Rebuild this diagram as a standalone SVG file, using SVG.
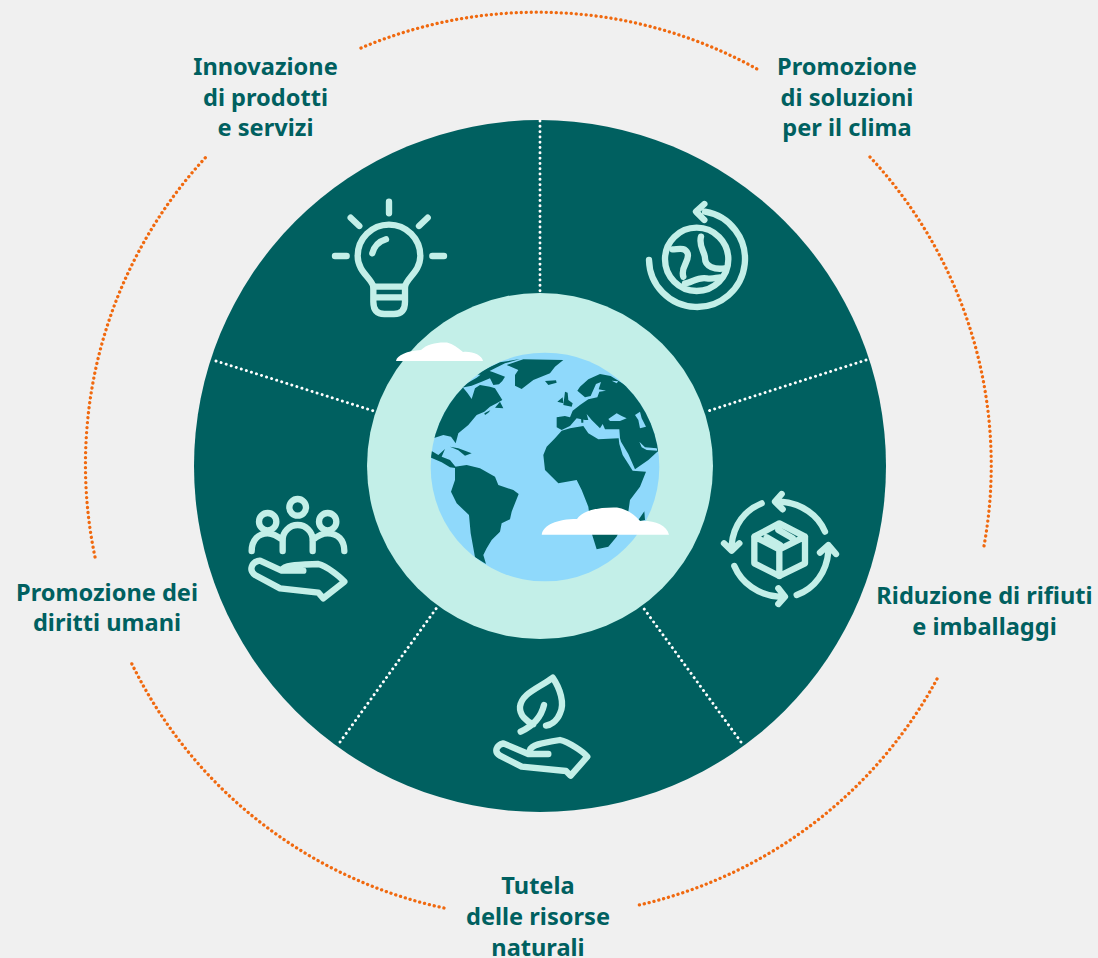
<svg xmlns="http://www.w3.org/2000/svg" width="1098" height="958" viewBox="0 0 1098 958">
<style>
.lbl{font-family:"Noto Sans","Liberation Sans",sans-serif;font-weight:700;font-size:23.600px;fill:#006060;text-anchor:middle}
.arc{fill:none;stroke:#f0690f;stroke-width:3.300;stroke-linecap:round;stroke-dasharray:.1 4.900}
.div{fill:none;stroke:#fff;stroke-width:2.900;stroke-linecap:round;stroke-dasharray:.1 5.200}
.icon{fill:none;stroke:#c3efe8;stroke-width:19;stroke-linecap:round;stroke-linejoin:round}
.land{fill:#006060}.sea{fill:#8fd9fb}.cloud{fill:#fff}
</style>
<defs><clipPath id="gc"><circle cx="435" cy="441" r="343"/></clipPath></defs>
<rect width="1098" height="958" fill="#f0f0f0"/>
<g id="wheel"><circle cx="540" cy="466" r="346" fill="#006060"/></g>
<g id="connectors">
<path class="div" d="M540 121V293M866 360L705 412M741 742L642 606M340 742L438 606M216 361L377 412"/>
<path class="arc" d="M361 48A452.7 452.7 0 0 1 757 69"/>
<path class="arc" d="M870 157A452.7 452.7 0 0 1 984 546"/>
<path class="arc" d="M937 679A452.7 452.7 0 0 1 639 905"/>
<path class="arc" d="M444 908A452.7 452.7 0 0 1 130 660"/>
<path class="arc" d="M95 557A452.7 452.7 0 0 1 206 157"/>
</g>
<g id="center">
<circle cx="540" cy="466" r="173" fill="#c3efe8"/>
<g transform="translate(400 320) scale(.33333)">
<circle cx="435" cy="441" r="343" fill="#8fd9fb"/>
<g clip-path="url(#gc)">
<g transform="translate(75 75)">
<path class="land" d="M0 285L30 200L80 130L112 125L128 145L140 162L150 130L165 120L195 125L210 130L232 165L215 175L195 185L178 200L155 210L130 240L100 265L92 295L78 275L55 270L25 280Z"/>
<path class="land" d="M100 130L155 98L185 75L205 82L240 95L232 108L222 118L205 120L195 100L170 110L140 122L110 128Z"/>
<path class="land" d="M150 88L190 68L225 52L285 42L240 55L210 70L170 90Z"/>
<path class="land" d="M210 188L225 170L235 190Z"/>
<path class="land" d="M178 205L196 196L190 203L180 210Z"/>
<path class="land" d="M0 335L20 318L40 330L60 312L50 335L75 345L95 370L75 367L50 352L15 337Z"/>
<path class="land" d="M75 305L100 310L140 325L120 332L100 316Z"/>
</g>
<path class="land" d="M165 440L200 435L240 445L285 470L295 495L340 510L356 522L335 575L330 598L305 610L300 635L275 660L260 685L250 705L258 732L225 712L212 640L207 585L170 550L153 515L165 480Z"/>
<path class="land" d="M320 135L370 118L490 120L465 140L450 160L400 180L365 207L345 197L345 165L355 150Z"/>
<path class="land" d="M435 183L468 181L470 188L445 195Z"/>
<path class="land" d="M430 405L440 380L465 355L485 332L510 325L550 318L565 340L595 358L656 355L658 372L668 405L698 452L738 455L720 500L690 540L685 575L650 650L625 680L590 688L575 640L565 560L545 510L530 480L475 490L435 450Z"/>
<path class="land" d="M715 600L733 574L735 600L722 604Z"/>
<g transform="translate(360 60)">
<path class="land" d="M110 232L135 228L150 232L158 212L180 195L205 178L232 172L238 155L258 152L236 148L243 126L228 132L212 168L195 172L172 152L180 140L205 118L240 102L272 108L295 122L340 150L400 230L430 325L412 335L385 360L345 388L325 342L303 305L300 295L298 268L255 268L248 252L240 265L215 240L200 222L205 240L195 240L170 235L150 258L125 270L110 262Z"/>
<path class="land" d="M112 185L128 172L130 190ZM130 195L135 155L143 158L145 180L158 190L155 200Z"/>
<path class="land" d="M183 232L190 232L190 248L184 248Z"/>
<path class="sea" d="M265 237L290 220L305 228L320 235L300 243L270 243Z"/>
<path class="sea" d="M345 225L360 215L365 235L378 260L360 265L355 240Z"/>
<path class="sea" d="M358 305L375 322L410 325L412 332L380 330L365 322Z"/>
<path class="sea" d="M275 122L295 124L290 130Z"/>
</g>
</g>
</g>
<path class="cloud" d="M396 361C397 355 407 351 421 350C427 344 437 342 447 342.500C453 344 458 348 463 352C472 351 482 355 483 361Z"/>
<path class="cloud" d="M541.700 534.700C543 525 557 519 577 519C583 510 600 507 617 507.500C627 509 635 515 640 521C653 520 667 525 669 534.700Z"/>
</g>
<g id="bulb" transform="translate(320 190) scale(.33333)">
<path class="icon" d="M207 35V70M92 83L118 108M323 83L297 108M45 198H80M337 198H372"/>
<path class="icon" d="M160 290C155 265 113 245 113 198A94 94 0 0 1 301 198C301 245 258 265 255 290"/>
<path class="icon" d="M160 290H255V335Q255 372 222 372H193Q160 372 160 335ZM160 322H255"/>
<path class="icon" d="M157 190C162 170 175 155 198 148"/>
</g>
<g id="earth-cycle" transform="translate(635 190) scale(.33333)">
<path class="icon" d="M42 210A144 144 0 1 0 210 65M208 42L183 65L208 90"/>
<circle class="icon" cx="185" cy="208" r="95"/>
<path class="icon" d="M112 178C130 178 150 170 158 190C165 215 135 230 145 260M198 140C190 170 210 185 210 205C210 230 240 240 270 235M150 280C170 280 185 260 215 265C235 268 245 262 255 262"/>
</g>
<g id="box-cycle" transform="translate(710 480) scale(.33333)">
<path class="icon" d="M345 155C325 105 275 70 212 65M215 42L195 65L218 88"/>
<path class="icon" d="M155 70C105 90 70 135 65 195M42 190L65 212L88 190"/>
<path class="icon" d="M73 258C95 310 145 345 205 350M205 325L225 350L205 372"/>
<path class="icon" d="M260 345C315 325 350 275 355 215M330 218L355 195L378 222"/>
<path class="icon" d="M208 130L285 170V250L208 288L133 250V170ZM133 170L208 208L285 170M208 208V288M170 172L210 195M205 150L248 175"/>
</g>
<g id="leaf-hand" transform="translate(480 665) scale(.33333)">
<path class="icon" d="M160 178C140 170 118 150 120 125C125 85 175 70 218 38C240 70 255 115 240 145C230 170 210 180 198 182M192 120C185 150 165 180 122 200"/>
<path class="icon" d="M150 255C155 240 180 235 240 225C265 230 310 260 322 275L272 332L258 318L125 305L60 272C40 260 50 240 70 235L145 267H205"/>
</g>
<g id="people-hand" transform="translate(235 490) scale(.33333)">
<circle class="icon" cx="188" cy="52" r="25"/><circle class="icon" cx="98" cy="95" r="26"/><circle class="icon" cx="278" cy="95" r="26"/>
<path class="icon" d="M143 183V150A45 45 0 0 1 233 150V183M50 183C50 150 70 130 98 130C115 130 130 140 143 150M328 183C328 150 308 130 278 130C260 130 245 140 233 150"/>
<path class="icon" d="M140 240C150 225 185 225 250 222C275 228 315 260 328 275L265 325L250 308L135 295L60 255C40 240 50 215 75 212L140 242H205"/>
</g>
<g id="label-innovazione"><text class="lbl" x="265.500" y="75">Innovazione</text><text class="lbl" x="265.500" y="105.500">di prodotti</text><text class="lbl" x="265.500" y="136">e servizi</text></g>
<g id="label-clima"><text class="lbl" x="847" y="75">Promozione</text><text class="lbl" x="847" y="105.500">di soluzioni</text><text class="lbl" x="847" y="136">per il clima</text></g>
<g id="label-rifiuti"><text class="lbl" x="984.500" y="604">Riduzione di rifiuti</text><text class="lbl" x="984.500" y="635">e imballaggi</text></g>
<g id="label-risorse"><text class="lbl" x="538" y="894">Tutela</text><text class="lbl" x="538" y="925">delle risorse</text><text class="lbl" x="538" y="955.500">naturali</text></g>
<g id="label-diritti"><text class="lbl" x="107" y="601">Promozione dei</text><text class="lbl" x="107" y="631">diritti umani</text></g>
</svg>
